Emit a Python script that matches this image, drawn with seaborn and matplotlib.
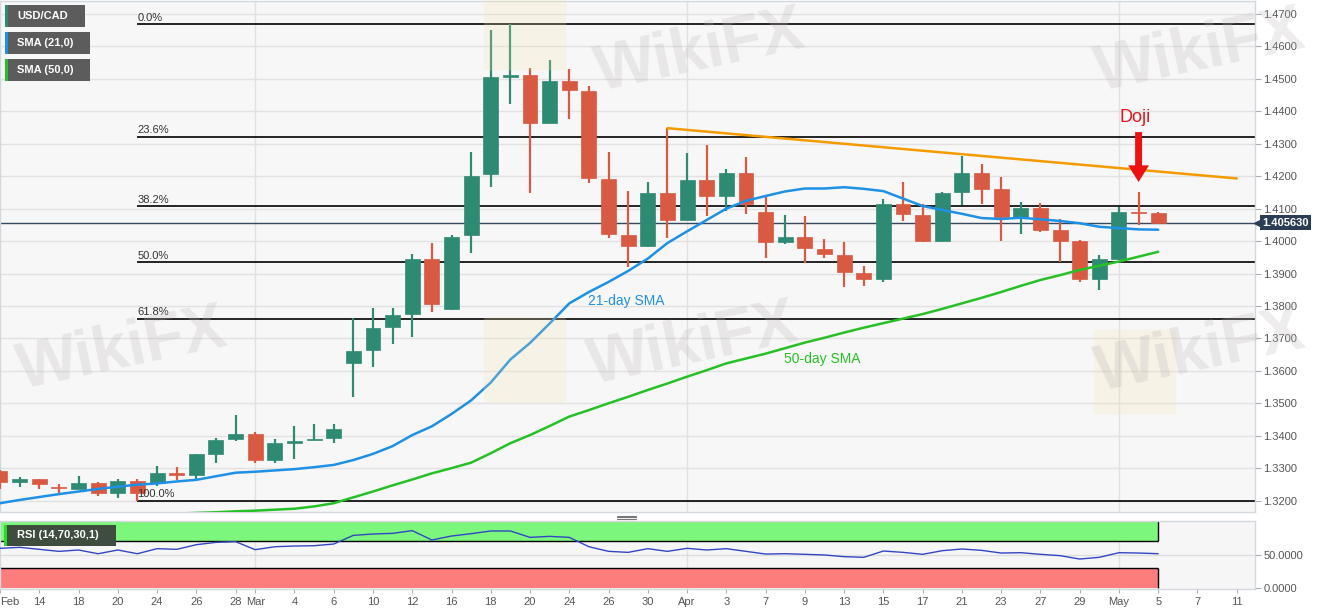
import numpy as np
import pandas as pd
import seaborn as sns
import matplotlib.pyplot as plt
from matplotlib.patches import Rectangle, FancyBboxPatch
from matplotlib.lines import Line2D
from matplotlib.ticker import MultipleLocator, FormatStrFormatter
import matplotlib.transforms as mtransforms

# Dados do gráfico: USD/CAD diário (12/02/2020 a 05/05/2020)
datas = pd.bdate_range('2020-02-12', '2020-05-05')
calendario = pd.bdate_range('2020-02-12', '2020-05-11')

abertura = [1.3292, 1.3256, 1.3266, 1.3243, 1.3237, 1.3253, 1.3222, 1.3261, 1.3253, 1.3286,
            1.3280, 1.3345, 1.3389, 1.3406, 1.3325, 1.3379, 1.3388, 1.3394, 1.3625, 1.3664,
            1.3734, 1.3775, 1.3944, 1.3790, 1.4018, 1.4206, 1.4507, 1.4513, 1.4365, 1.4494,
            1.4464, 1.4191, 1.4019, 1.3985, 1.4147, 1.4065, 1.4188, 1.4139, 1.4211, 1.4091,
            1.3996, 1.4014, 1.3975, 1.3956, 1.3903, 1.3883, 1.4114, 1.4080, 1.4001, 1.4150,
            1.4210, 1.4161, 1.4075, 1.4102, 1.4034, 1.4000, 1.3882, 1.3945, 1.4091, 1.4088]
maxima = [1.3295, 1.3274, 1.3267, 1.3250, 1.3276, 1.3256, 1.3268, 1.3266, 1.3307, 1.3303,
          1.3345, 1.3394, 1.3464, 1.3412, 1.3389, 1.3430, 1.3436, 1.3436, 1.3762, 1.3793,
          1.3793, 1.3960, 1.3995, 1.4019, 1.4274, 1.4651, 1.4668, 1.4535, 1.4558, 1.4530,
          1.4478, 1.4274, 1.4154, 1.4181, 1.4348, 1.4272, 1.4296, 1.4221, 1.4258, 1.4135,
          1.4080, 1.4077, 1.4006, 1.3998, 1.3923, 1.4129, 1.4181, 1.4114, 1.4152, 1.4263,
          1.4238, 1.4197, 1.4121, 1.4117, 1.4068, 1.4003, 1.3957, 1.4106, 1.4150, 1.4091]
minima = [1.3235, 1.3241, 1.3235, 1.3224, 1.3235, 1.3214, 1.3208, 1.3200, 1.3245, 1.3264,
          1.3268, 1.3317, 1.3385, 1.3315, 1.3317, 1.3329, 1.3387, 1.3378, 1.3518, 1.3611,
          1.3682, 1.3705, 1.3782, 1.3788, 1.3962, 1.4168, 1.4422, 1.4149, 1.4363, 1.4375,
          1.4178, 1.4010, 1.3921, 1.3983, 1.4010, 1.4064, 1.4077, 1.4094, 1.4083, 1.3947,
          1.3991, 1.3932, 1.3947, 1.3858, 1.3863, 1.3875, 1.4063, 1.3998, 1.4000, 1.4111,
          1.4114, 1.4001, 1.4023, 1.4029, 1.3936, 1.3875, 1.3849, 1.3942, 1.4051, 1.4054]
fechamento = [1.3258, 1.3266, 1.3250, 1.3239, 1.3253, 1.3222, 1.3261, 1.3224, 1.3286, 1.3280,
              1.3344, 1.3388, 1.3404, 1.3325, 1.3377, 1.3385, 1.3391, 1.3421, 1.3662, 1.3731,
              1.3772, 1.3945, 1.3805, 1.4013, 1.4202, 1.4505, 1.4513, 1.4365, 1.4494, 1.4466,
              1.4194, 1.4021, 1.3985, 1.4147, 1.4065, 1.4188, 1.4140, 1.4211, 1.4113, 1.3996,
              1.4014, 1.3978, 1.3959, 1.3906, 1.3884, 1.4114, 1.4084, 1.4001, 1.4149, 1.4210,
              1.4161, 1.4073, 1.4102, 1.4034, 1.4000, 1.3882, 1.3945, 1.4090, 1.4088, 1.40563]

sma21 = [1.3192, 1.3202, 1.3211, 1.3220, 1.3228, 1.3236, 1.3243, 1.3249, 1.3253, 1.3259,
         1.3264, 1.3275, 1.3286, 1.3289, 1.3293, 1.3297, 1.3303, 1.3310, 1.3325, 1.3344,
         1.3368, 1.3402, 1.3429, 1.3467, 1.3509, 1.3564, 1.3635, 1.3686, 1.3746, 1.3808,
         1.3843, 1.3874, 1.3908, 1.3946, 1.3994, 1.4030, 1.4065, 1.4100, 1.4124, 1.4139,
         1.4153, 1.4162, 1.4162, 1.4166, 1.4161, 1.4154, 1.4131, 1.4108, 1.4096, 1.4084,
         1.4071, 1.4068, 1.4072, 1.4067, 1.4062, 1.4055, 1.4044, 1.4040, 1.4036, 1.4035]
sma50 = [1.3138, 1.3140, 1.3143, 1.3146, 1.3149, 1.3151, 1.3154, 1.3156, 1.3158, 1.3160,
         1.3162, 1.3164, 1.3167, 1.3169, 1.3172, 1.3175, 1.3182, 1.3192, 1.3210, 1.3228,
         1.3247, 1.3265, 1.3284, 1.3300, 1.3317, 1.3346, 1.3377, 1.3402, 1.3430, 1.3459,
         1.3479, 1.3500, 1.3520, 1.3541, 1.3561, 1.3582, 1.3602, 1.3623, 1.3638, 1.3653,
         1.3670, 1.3687, 1.3702, 1.3718, 1.3733, 1.3747, 1.3761, 1.3775, 1.3791, 1.3808,
         1.3825, 1.3843, 1.3862, 1.3880, 1.3895, 1.3911, 1.3924, 1.3937, 1.3952, 1.3967]
rsi = [59.5, 61.0, 58.0, 55.0, 57.0, 51.5, 57.0, 51.5, 59.0, 58.0,
       64.9, 68.4, 69.4, 57.5, 61.9, 62.9, 63.4, 65.9, 78.8, 80.8,
       81.8, 85.8, 71.9, 77.8, 81.3, 85.3, 85.3, 75.8, 77.3, 75.8,
       61.9, 55.0, 53.5, 59.0, 55.0, 59.5, 57.0, 59.0, 55.0, 51.0,
       51.5, 50.6, 49.6, 47.1, 46.1, 55.5, 53.5, 50.6, 56.0, 58.5,
       56.5, 52.5, 53.0, 50.6, 48.6, 43.6, 46.1, 53.0, 52.5, 51.5]

# Fibonacci entre a máxima e a mínima do período
fib_max: float = 1.4668
fib_min: float = 1.3200
fib_inicio: str = '2020-02-21'
fib_niveis = [0.0, 0.236, 0.382, 0.5, 0.618, 1.0]

# Linha de tendência (resistência)
tendencia_datas = ['2020-03-31', '2020-05-11']
tendencia_valores = [1.4348, 1.4193]

preco_atual: float = 1.40563
doji_data: str = '2020-05-04'

tick_datas = ['2020-02-12', '2020-02-14', '2020-02-18', '2020-02-20', '2020-02-24',
              '2020-02-26', '2020-02-28', '2020-03-02', '2020-03-04', '2020-03-06',
              '2020-03-10', '2020-03-12', '2020-03-16', '2020-03-18', '2020-03-20',
              '2020-03-24', '2020-03-26', '2020-03-30', '2020-04-01', '2020-04-03',
              '2020-04-07', '2020-04-09', '2020-04-13', '2020-04-15', '2020-04-17',
              '2020-04-21', '2020-04-23', '2020-04-27', '2020-04-29', '2020-05-01',
              '2020-05-05', '2020-05-07', '2020-05-11']
tick_rotulos = ['Feb', '14', '18', '20', '24', '26', '28', 'Mar', '4', '6', '10', '12',
                '16', '18', '20', '24', '26', '30', 'Apr', '3', '7', '9', '13', '15',
                '17', '21', '23', '27', '29', 'May', '5', '7', '11']
inicio_meses = ['2020-03-02', '2020-04-01', '2020-05-01']


def pos(lista):
    return calendario.get_indexer(pd.to_datetime(lista))


# Estilo
sns.set_style('white')
plt.rcParams['font.family'] = ['Liberation Sans', 'DejaVu Sans']

verde = '#2f8a74'
vermelho = '#d95a43'
azul = '#1e90e6'
verde_sma = '#27c127'

W, H = 1331, 615
fig = plt.figure(figsize=(W / 100, H / 100), dpi=100, facecolor='white')
ax = fig.add_axes([0, 1 - 511.7 / H, 1255 / W, 510.7 / H], facecolor='#f7f7f7')
ax_rsi = fig.add_axes([0, 1 - 589 / H, 1255 / W, 68.3 / H], facecolor='#f6f6f6')

x = np.arange(len(datas))
o = np.array(abertura)
c = np.array(fechamento)
hi = np.array(maxima)
lo = np.array(minima)
cores = np.where(c >= o, verde, vermelho)

xlim = (0, 63.93)
ax.set_xlim(*xlim)
ax.set_ylim(1.31658, 1.4740)

# Grade
ax.yaxis.set_major_locator(MultipleLocator(0.01))
ax.yaxis.set_major_formatter(FormatStrFormatter('%.4f'))
ax.grid(axis='y', color='#e2e2e2', linewidth=1, zorder=0)
for xm in pos(inicio_meses):
    ax.axvline(xm, color='#e0e0e0', linewidth=1, zorder=0)
    ax_rsi.axvline(xm, color='#e0e0e0', linewidth=1, zorder=0)

# Marca d'água
for (tx, ty) in [(693, 345), (700, 52), (122, 350), (1200, 352), (1200, 52)]:
    fig.text(tx / W, 1 - ty / H, 'WikiFX', fontsize=46, fontweight='bold', color='#bdb6b6',
             alpha=0.26, rotation=12, ha='center', va='center', zorder=0.5)
for (lx, ly) in [(525, 360), (525, 28), (1135, 372)]:
    fig.add_artist(FancyBboxPatch(((lx - 36) / W, 1 - (ly + 40) / H), 72 / W, 80 / H,
                                  boxstyle='round,pad=0.004', transform=fig.transFigure,
                                  fc='#f3e3a8', ec='none', alpha=0.22, zorder=0.5))

# Velas
ax.vlines(x, lo, hi, colors=cores, linewidth=1.6, zorder=3)
corpo = np.maximum(np.abs(c - o), 0.0003)
ax.bar(x, corpo, bottom=np.minimum(o, c), width=0.76, color=cores, edgecolor=cores,
       linewidth=0.5, zorder=4)

# Médias móveis
sns.lineplot(x=x, y=sma21, ax=ax, color=azul, linewidth=1.8, zorder=5)
sns.lineplot(x=x, y=sma50, ax=ax, color=verde_sma, linewidth=1.8, zorder=5)
ax.text(29.95, 1.3815, '21-day SMA', color=azul, fontsize=10, va='center', zorder=6)
ax.text(39.94, 1.3636, '50-day SMA', color=verde_sma, fontsize=10, va='center', zorder=6)

# Fibonacci
x_fib = pos([fib_inicio])[0]
for nivel in fib_niveis:
    y = fib_max - nivel * (fib_max - fib_min)
    ax.hlines(y, x_fib, xlim[1], color='black', linewidth=1.2, zorder=2)
    ax.annotate(f'{nivel * 100:.1f}%', (x_fib, y), xytext=(0, 1), textcoords='offset points',
                fontsize=8, color='#333333', va='bottom', ha='left', zorder=6)

# Linha de tendência
sns.lineplot(x=pos(tendencia_datas), y=tendencia_valores, ax=ax, color='#f59b00',
             linewidth=1.8, zorder=5)

# Preço atual
ax.axhline(preco_atual, color='#34495e', linewidth=1, zorder=2)
trans = mtransforms.blended_transform_factory(ax.transAxes, ax.transData)
ax.annotate(f'{preco_atual:.6f}', xy=(1.0, preco_atual), xycoords=trans, xytext=(5, 0),
            textcoords='offset points', fontsize=8, color='white', fontweight='bold',
            va='center', ha='left', annotation_clip=False,
            bbox=dict(boxstyle='square,pad=0.22', fc='#2c3e56', ec='none'))
ax.plot([1.0 + 3 / 1255], [preco_atual], marker='<', markersize=6, color='#2c3e56',
        transform=trans, clip_on=False, zorder=7)

# Doji
x_doji = pos([doji_data])[0]
ax.text(x_doji - 0.2, 1.4380, 'Doji', color='#e8141b', fontsize=13, ha='center',
        va='center', zorder=7)
ax.annotate('', xy=(x_doji, 1.4182), xytext=(x_doji, 1.4336),
            arrowprops=dict(facecolor='#ee1111', edgecolor='none', width=5,
                            headwidth=15, headlength=12, shrink=0), zorder=7)

# Eixos do painel principal
ax.yaxis.tick_right()
ax.tick_params(axis='y', right=True, left=False, labelright=True, labelleft=False,
               length=4, width=0.8, color='#a9aeb8', labelsize=8, labelcolor='#555555', pad=2)
ax.tick_params(axis='x', bottom=False, labelbottom=False)
ax.set_xlabel('')
ax.set_ylabel('')
for lado in ax.spines.values():
    lado.set_color('#d3d7de')
    lado.set_linewidth(1)

# Painel RSI
ax_rsi.set_xlim(*xlim)
ax_rsi.set_ylim(-1.0, 100.6)
x_fim = x[-1]
ax_rsi.add_patch(Rectangle((xlim[0], 70), x_fim - xlim[0], 30, fc='#7cf77c', ec='none', zorder=1))
ax_rsi.add_patch(Rectangle((xlim[0], 0), x_fim - xlim[0], 30, fc='#fd7c7c', ec='none', zorder=1))
ax_rsi.hlines([70, 30], xlim[0], x_fim, color='black', linewidth=1, zorder=2)
ax_rsi.vlines(x_fim, 70, 100, color='black', linewidth=1, zorder=2)
ax_rsi.vlines(x_fim, 0, 30, color='black', linewidth=1, zorder=2)
ax_rsi.axhline(50, color='#dddddd', linewidth=1, zorder=0)
sns.lineplot(x=x, y=rsi, ax=ax_rsi, color='#3246c4', linewidth=1, zorder=3)

ax_rsi.set_yticks([0, 50])
ax_rsi.set_yticklabels(['0.0000', '50.0000'])
ax_rsi.yaxis.tick_right()
ax_rsi.tick_params(axis='y', right=True, left=False, labelright=True, labelleft=False,
                   length=4, width=0.8, color='#a9aeb8', labelsize=8, labelcolor='#555555', pad=2)
ax_rsi.set_xticks(pos(tick_datas))
ax_rsi.set_xticklabels(tick_rotulos)
ax_rsi.tick_params(axis='x', bottom=True, length=3, width=0.8, color='#a9aeb8',
                   labelsize=8, labelcolor='#555555', pad=3)
ax_rsi.get_xticklabels()[0].set_horizontalalignment('left')
ax_rsi.set_xlabel('')
ax_rsi.set_ylabel('')
for lado in ax_rsi.spines.values():
    lado.set_color('#d3d7de')
    lado.set_linewidth(1)

# Caixas de legenda
def caixa(x0, y0, x1, y1, cor, faixa, texto):
    fig.add_artist(Rectangle((x0 / W, 1 - y1 / H), (x1 - x0) / W, (y1 - y0) / H,
                             transform=fig.transFigure, fc=cor, ec='none', zorder=10))
    fig.add_artist(Rectangle((x0 / W, 1 - y1 / H), 3 / W, (y1 - y0) / H,
                             transform=fig.transFigure, fc=faixa, ec='none', zorder=11))
    fig.text(17 / W, 1 - (y0 + y1) / 2 / H, texto, color='white', fontsize=8,
             fontweight='bold', va='center', ha='left', zorder=12)


caixa(5, 5, 85, 27, '#5c5c5c', verde, 'USD/CAD')
caixa(5, 32, 90, 54, '#5c5c5c', azul, 'SMA (21,0)')
caixa(5, 59, 90, 81, '#5c5c5c', verde_sma, 'SMA (50,0)')
caixa(4, 525, 116, 546, '#3f4d3f', '#22dd22', 'RSI (14,70,30,1)')

# Alça entre os painéis
for yy in (515.5, 517, 518.5):
    fig.add_artist(Line2D([617 / W, 636 / W], [1 - yy / H, 1 - yy / H], transform=fig.transFigure,
                          color='#777777', linewidth=0.8))

plt.savefig('out.png', dpi=100, facecolor='white')
